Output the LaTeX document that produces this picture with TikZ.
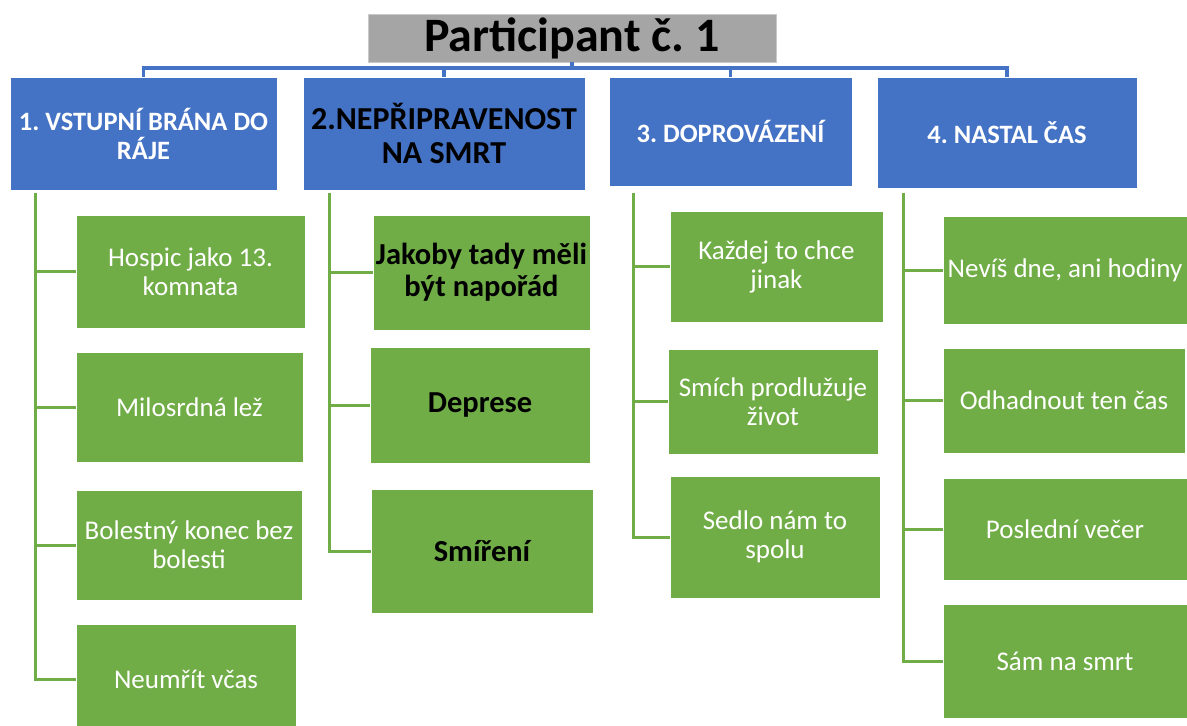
\documentclass[tikz,border=0pt]{standalone}
\usepackage{fontspec}
\setmainfont{Carlito}
\frenchspacing
\definecolor{hdrblue}{HTML}{4472C4}
\definecolor{leafgreen}{HTML}{70AD47}
\definecolor{titlegray}{HTML}{A5A5A5}
\begin{document}
\begin{tikzpicture}[x=1pt,y=-1pt,
  box/.style={rectangle,inner sep=0pt,align=center,draw=white,line width=0.6pt},
  titlebox/.style={box,fill=titlegray,draw=titlegray!60!white,font=\fontsize{48}{52}\selectfont\bfseries,text=black},
  hdr/.style={box,fill=hdrblue,text=white,font=\fontsize{26.5}{29}\selectfont\bfseries},
  hdrdark/.style={box,fill=hdrblue,text=black,font=\fontsize{32}{34}\selectfont\bfseries},
  leaf/.style={box,fill=leafgreen,text=white,font=\fontsize{27}{29}\selectfont},
  leafdark/.style={box,fill=leafgreen,text=black,font=\fontsize{30.5}{32}\selectfont\bfseries},
  busline/.style={draw=hdrblue,line width=3.5pt},
  twig/.style={draw=leafgreen,line width=3pt}]
\useasboundingbox (0,0) rectangle (1187,726);

% title
\node[titlebox,minimum width=408,minimum height=48] (title) at (572,38) {Participant č. 1};

% theme headers
\node[hdr,minimum width=267,minimum height=113] (h1) at (143.5,133.5) {1. VSTUPNÍ BRÁNA DO\\RÁJE};
\node[hdrdark,minimum width=282,minimum height=113] (h2) at (444,133.5) {2.NEPŘIPRAVENOST\\NA SMRT};
\node[hdr,minimum width=243,minimum height=109] (h3) at (730.5,131.5) {3. DOPROVÁZENÍ};
\node[hdr,minimum width=260,minimum height=111] (h4) at (1007,132.5) {4. NASTAL ČAS};

% bus from title to headers
\coordinate (bus) at (0,68);
\draw[busline] (title.south) -- (title.south |- bus);
\draw[busline] (h1.north) -- (h1.north |- bus) -- (h4.north |- bus) -- (h4.north);
\draw[busline] (h2.north) -- (h2.north |- bus);
\draw[busline] (h3.north) -- (h3.north |- bus);

% column 1
\node[leaf,minimum width=229,minimum height=113] (c11) at (190.5,271.5) {Hospic jako 13.\\komnata};
\node[leaf,minimum width=227,minimum height=110] (c12) at (189.5,407) {Milosrdná lež};
\node[leaf,minimum width=226,minimum height=110] (c13) at (189,545) {Bolestný konec bez\\bolesti};
\node[leaf,minimum width=220,minimum height=110] (c14) at (186,679) {Neumřít včas};

% column 2
\node[leafdark,minimum width=217,minimum height=115] (c21) at (481.5,272.5) {Jakoby tady měli\\být napořád};
\node[leafdark,minimum width=220,minimum height=116] (c22) at (480,405) {Deprese};
\node[leafdark,minimum width=222,minimum height=124] (c23) at (482,551) {Smíření};

% column 3
\node[leaf,minimum width=213,minimum height=111] (c31) at (776.5,266.5) {Každej to chce\\jinak};
\node[leaf,minimum width=210,minimum height=105] (c32) at (773,401.5) {Smích prodlužuje\\život};
\node[leaf,minimum width=210,minimum height=122] (c33) at (775,537) {Sedlo nám to\\spolu};

% column 4
\node[leaf,minimum width=244,minimum height=108] (c41) at (1065,270) {Nevíš dne, ani hodiny};
\node[leaf,minimum width=242,minimum height=105] (c42) at (1064,400.5) {Odhadnout ten čas};
\node[leaf,minimum width=244,minimum height=102] (c43) at (1065,529) {Poslední večer};
\node[leaf,minimum width=244,minimum height=114] (c44) at (1065,661) {Sám na smrt};

% trunks below the headers
\coordinate (t1) at (35,193);
\coordinate (t2) at (329,193);
\coordinate (t3) at (633,193);
\coordinate (t4) at (903,193);

\foreach \c in {c11,c12,c13,c14} \draw[twig] (t1) |- (\c.west);
\foreach \c in {c21,c22,c23} \draw[twig] (t2) |- (\c.west);
\foreach \c in {c31,c32,c33} \draw[twig] (t3) |- (\c.west);
\foreach \c in {c41,c42,c43,c44} \draw[twig] (t4) |- (\c.west);
\end{tikzpicture}
\end{document}
